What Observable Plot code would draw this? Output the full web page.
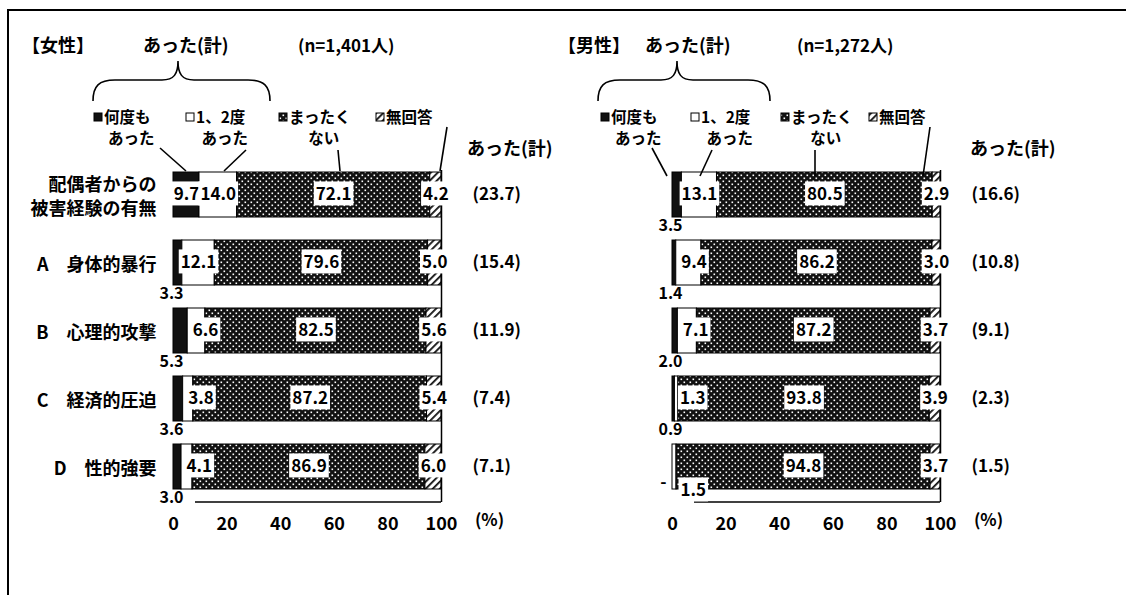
<!DOCTYPE html>
<html>
<head>
<meta charset="utf-8">
<script src="https://cdn.jsdelivr.net/npm/d3@7"></script>
<script src="https://cdn.jsdelivr.net/npm/@observablehq/plot@0.6"></script>
<style>
  html, body { margin: 0; padding: 0; background: #fff; }
  #wrap { position: relative; width: 1126px; height: 595px; overflow: hidden; background: #fff;
          font-family: "Noto Sans CJK JP", "Noto Sans", sans-serif; }
  #frame { position: absolute; left: 7px; top: 9px; width: 1200px; height: 700px;
           border-left: 2px solid #000; border-top: 2px solid #000; }
  #wrap svg { position: absolute; left: 0; top: 0; }
</style>
</head>
<body>
<div id="wrap"><div id="frame"></div></div>
<script>
// ---------------- data ----------------
const genders = ["女性", "男性"];
const sampleSizes = ["(n=1,401人)", "(n=1,272人)"];
const items = ["配偶者からの\n被害経験の有無", "A　身体的暴行", "B　心理的攻撃", "C　経済的圧迫", "D　性的強要"];
const series = ["何度も\nあった", "1、2度\nあった", "まったく\nない", "無回答"];
const groupLabel = "あった(計)";

const womenOften     = [9.7, 3.3, 5.3, 3.6, 3.0];
const womenOnceTwice = [14.0, 12.1, 6.6, 3.8, 4.1];
const womenNever     = [72.1, 79.6, 82.5, 87.2, 86.9];
const womenNoAnswer  = [4.2, 5.0, 5.6, 5.4, 6.0];
const womenTotal     = [23.7, 15.4, 11.9, 7.4, 7.1];

const menOften       = [3.5, 1.4, 2.0, 0.9, null];
const menOnceTwice   = [13.1, 9.4, 7.1, 1.3, 1.5];
const menNever       = [80.5, 86.2, 87.2, 93.8, 94.8];
const menNoAnswer    = [2.9, 3.0, 3.7, 3.9, 3.7];
const menTotal       = [16.6, 10.8, 9.1, 2.3, 1.5];

const xTicks = [0, 20, 40, 60, 80, 100];

// ---------------- build tables ----------------
const panels = [
  {g: genders[0], vals: [womenOften, womenOnceTwice, womenNever, womenNoAnswer], tot: womenTotal},
  {g: genders[1], vals: [menOften, menOnceTwice, menNever, menNoAnswer], tot: menTotal}
];
const rows = [];
panels.forEach(p => items.forEach((it, i) => series.forEach((s, k) => {
  const raw = p.vals[k][i];
  rows.push({gender: p.g, item: it, series: s, k, raw, value: raw ?? 0,
             prevMissing: k === 1 && p.vals[0][i] == null,
             label: raw == null ? "-" : raw.toFixed(1)});
})));
const totRows = panels.flatMap(p => items.map((it, i) => ({gender: p.g, item: it, total: p.tot[i]})));

const mode = d => d.k === 0 ? (d.raw == null ? "dash" : d.raw >= 6 ? "center" : "below")
                : d.k === 1 ? (d.prevMissing ? "under" : d.raw < 10 ? "start" : "center")
                : "center";

const FONT = '"Noto Sans CJK JP", "Noto Sans", sans-serif';
const W = 1126, H = 595;
const common = {x: "value", y: "item", fx: "gender", z: "series"};
const BOX = {fontVariant: "tabular-nums"}; // marker for labels that get a white box

// ---------------- pattern defs ----------------
const defs = `<svg width="0" height="0" style="position:absolute"><defs>
  <pattern id="pDots" width="6" height="6" patternUnits="userSpaceOnUse">
    <rect width="6" height="6" fill="#111"/>
    <rect x="0.5" y="0.5" width="1.6" height="1.6" fill="#fff"/>
    <rect x="3.5" y="3.5" width="1.6" height="1.6" fill="#fff"/>
  </pattern>
  <pattern id="pHatch" width="5" height="5" patternUnits="userSpaceOnUse" patternTransform="rotate(-45)">
    <rect width="5" height="5" fill="#fff"/>
    <rect width="5" height="1.8" fill="#111"/>
  </pattern>
  <pattern id="pWhite" width="4" height="4" patternUnits="userSpaceOnUse">
    <rect width="4" height="4" fill="#fff"/>
  </pattern>
</defs></svg>`;
document.getElementById("wrap").insertAdjacentHTML("beforeend", defs);

const fills = ["#111", "url(#pWhite)", "url(#pDots)", "url(#pHatch)"];

// ---------------- chart ----------------
const chart = Plot.plot({
  width: W, height: H,
  marginLeft: 172, marginRight: 186, marginTop: 147, marginBottom: 82,
  style: {fontFamily: FONT, fontSize: "17px", fontWeight: "bold", color: "#000", background: "transparent", overflow: "visible"},
  x: {domain: [0, 100], label: null},
  y: {domain: items, padding: 0.343, label: null},
  fx: {domain: genders, paddingInner: 0.4635, paddingOuter: 0, axis: null, label: null},
  color: {type: "ordinal", domain: series, range: fills},
  marks: [
    Plot.barX(rows, Plot.stackX({...common, fill: "series", stroke: "#000", strokeWidth: 1})),
    Plot.ruleX([d3.max(xTicks)], {insetTop: 23, insetBottom: 11, stroke: "#000", strokeWidth: 1.5}),
    Plot.ruleY(items.slice(-1), {dy: 35, insetLeft: 22, stroke: "#000", strokeWidth: 1.5}),
    // centered labels (boxed)
    Plot.text(rows, Plot.stackX({...common, ...BOX, text: d => mode(d) === "center" ? d.label : null, fontSize: 17})),
    // labels at segment start (boxed)
    Plot.text(rows, Plot.stackX1({...common, ...BOX, text: d => mode(d) === "start" ? d.label : null,
      textAnchor: "start", dx: 5, fontSize: 17})),
    // labels under the bar start (boxed)
    Plot.text(rows, Plot.stackX1({...common, ...BOX, text: d => mode(d) === "under" ? d.label : null,
      textAnchor: "start", dx: 8, dy: 24, fontSize: 17})),
    // small values below-left of bar
    Plot.text(rows, Plot.stackX1({...common, text: d => mode(d) === "below" ? d.label : null,
      dx: -2, dy: 31, fontSize: 16})),
    // missing value dash
    Plot.text(rows, Plot.stackX1({...common, text: d => mode(d) === "dash" ? d.label : null,
      dx: -9, dy: 16, fontSize: 17})),
    // totals column
    Plot.text(totRows, {y: "item", fx: "gender", frameAnchor: "right", textAnchor: "start", dx: 31,
      text: d => `(${d.total.toFixed(1)})`, fontSize: 17}),
    // percent unit
    Plot.text(["(%)"], {frameAnchor: "bottom-right", textAnchor: "middle", dx: 48, dy: 12, fontSize: 17}),
    Plot.axisX({ticks: xTicks, tickSize: 0, tickPadding: 4, fontSize: 18, label: null}),
    Plot.axisY({tickSize: 0, tickPadding: 17, fontSize: 18, lineHeight: 1.35, label: null})
  ]
});
document.getElementById("wrap").appendChild(chart);

// white boxes behind boxed labels
const NS = "http://www.w3.org/2000/svg";
chart.querySelectorAll('g[font-variant="tabular-nums"] text').forEach(t => {
  const b = t.getBBox();
  const r = document.createElementNS(NS, "rect");
  r.setAttribute("x", b.x - 2); r.setAttribute("y", b.y + 1);
  r.setAttribute("width", b.width + 4); r.setAttribute("height", b.height - 1);
  r.setAttribute("fill", "#fff");
  if (t.getAttribute("transform")) r.setAttribute("transform", t.getAttribute("transform"));
  t.parentNode.insertBefore(r, t);
});

// ---------------- headers, legend, brace (overlay) ----------------
const layout = [
  {title: 22, group: 143, n: 298, brace: [93, 178, 270], legend: [93, 185, 278, 375], total: 467,
   leaders: [[160,148,186,171],[246,150,224,171],[338,150,340,171],[447,127,440,171]]},
  {title: 558, group: 645, n: 797, brace: [598, 677, 770], legend: [600, 690, 780, 868], total: 970,
   leaders: [[652,148,667,176],[712,150,700,176],[815,150,815,176],[930,127,923,176]]}
];
const ov = d3.create("svg").attr("width", W).attr("height", H)
  .style("font-family", FONT).style("font-weight", "bold").attr("fill", "#000");
layout.forEach((L, pi) => {
  const g = ov.append("g");
  g.append("text").attr("x", L.title).attr("y", 46).attr("dy", "0.35em").attr("font-size", 18)
    .text(`【${genders[pi]}】`);
  g.append("text").attr("x", L.group).attr("y", 46).attr("dy", "0.35em").attr("font-size", 18).text(groupLabel);
  g.append("text").attr("x", L.n).attr("y", 46).attr("dy", "0.35em").attr("font-size", 17).text(sampleSizes[pi]);
  const [a, p, b] = L.brace;
  g.append("path").attr("fill", "none").attr("stroke", "#000").attr("stroke-width", 1.6)
    .attr("d", `M${a},101 C${a},86 ${a+6},80 ${a+22},80 L${p-16},80 C${p-4},80 ${p},74 ${p},61 C${p},74 ${p+4},80 ${p+16},80 L${b-22},80 C${b-6},80 ${b},86 ${b},101`);
  series.forEach((s, k) => {
    const [l1, l2] = s.split("\n");
    const x = L.legend[k];
    g.append("rect").attr("x", x + 1).attr("y", 113).attr("width", 8).attr("height", 8)
      .attr("fill", fills[k]).attr("stroke", "#000").attr("stroke-width", 1);
    g.append("text").attr("x", x + 11).attr("y", 118).attr("dy", "0.35em").attr("font-size", 15.5).text(l1);
    if (l2) {
      g.append("text").attr("x", x + 11).attr("y", 139).attr("dy", "0.35em").attr("font-size", 15.5)
        .attr("class", "l2").text(l2);
    }
  });
  g.append("text").attr("x", L.total).attr("y", 149).attr("dy", "0.35em").attr("font-size", 18).text(groupLabel);
  L.leaders.forEach(([x1, y1, x2, y2]) => {
    g.append("line").attr("x1", x1).attr("y1", y1).attr("x2", x2).attr("y2", y2)
      .attr("stroke", "#000").attr("stroke-width", 1.6);
  });
});
document.getElementById("wrap").appendChild(ov.node());
// center second legend line under the first
ov.selectAll("g").each(function() {
  const texts = Array.from(this.querySelectorAll("text"));
  texts.forEach((t, i) => {
    if (t.getAttribute("class") === "l2") {
      const prev = texts[i - 1];
      const w1 = prev.getComputedTextLength(), w2 = t.getComputedTextLength();
      t.setAttribute("x", +prev.getAttribute("x") + (w1 - w2) / 2 + 4);
    }
  });
});
</script>
</body>
</html>
